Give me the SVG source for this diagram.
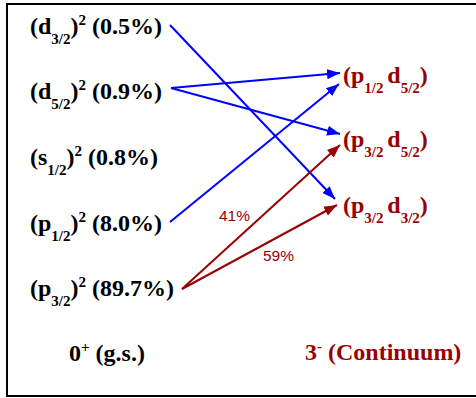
<svg xmlns="http://www.w3.org/2000/svg" width="476" height="398" viewBox="0 0 476 398">
<style>
text.t{font-family:'Liberation Serif','Times New Roman',Times,serif;font-weight:700;font-size:24px;fill:#000}
text.r{fill:#990000}
tspan.s{font-size:15px}
text.p{font-family:'Liberation Sans',Arial,sans-serif;font-size:15.5px;fill:#990000}
.b{stroke:#0000ff;stroke-width:2;fill:none;marker-end:url(#ab)}
.d{stroke:#990000;stroke-width:2;fill:none;marker-end:url(#ar)}
</style>
<defs>
<marker id="ab" markerUnits="userSpaceOnUse" markerWidth="14" markerHeight="12" refX="13" refY="5" orient="auto" viewBox="0 0 14 10"><path d="M0,0 L13,5 L0,10 z" fill="#0000ff"/></marker>
<marker id="ar" markerUnits="userSpaceOnUse" markerWidth="14" markerHeight="12" refX="13" refY="5" orient="auto" viewBox="0 0 14 10"><path d="M0,0 L13,5 L0,10 z" fill="#990000"/></marker>
</defs>
<rect x="7" y="4" width="480" height="392" fill="#fff" stroke="#000" stroke-width="2"/>
<g id="d32"><text class="t" font-family="Liberation Serif, serif" x="30" y="34">(d<tspan class="s" dy="10">3/2</tspan><tspan dy="-10">)</tspan><tspan class="s" dy="-9">2</tspan><tspan dy="9"> (0.5%)</tspan></text></g>
<g id="d52"><text class="t" font-family="Liberation Serif, serif" x="30" y="99">(d<tspan class="s" dy="10">5/2</tspan><tspan dy="-10">)</tspan><tspan class="s" dy="-9">2</tspan><tspan dy="9"> (0.9%)</tspan></text></g>
<g id="s12"><text class="t" font-family="Liberation Serif, serif" x="30" y="165">(s<tspan class="s" dy="10">1/2</tspan><tspan dy="-10">)</tspan><tspan class="s" dy="-9">2</tspan><tspan dy="9"> (0.8%)</tspan></text></g>
<g id="p12"><text class="t" font-family="Liberation Serif, serif" x="30" y="231">(p<tspan class="s" dy="10">1/2</tspan><tspan dy="-10">)</tspan><tspan class="s" dy="-9">2</tspan><tspan dy="9"> (8.0%)</tspan></text></g>
<g id="p32"><text class="t" font-family="Liberation Serif, serif" x="30" y="296">(p<tspan class="s" dy="10">3/2</tspan><tspan dy="-10">)</tspan><tspan class="s" dy="-9">2</tspan><tspan dy="9"> (89.7%)</tspan></text></g>
<g id="gs"><text class="t" font-family="Liberation Serif, serif" x="69" y="361">0<tspan class="s" dy="-9">+</tspan><tspan dy="9"> (g.s.)</tspan></text></g>
<g id="p12d52"><text class="t r" font-family="Liberation Serif, serif" x="343" y="83">(p<tspan class="s" dy="10">1/2 </tspan><tspan dy="-10">d</tspan><tspan class="s" dy="10">5/2</tspan><tspan dy="-10">)</tspan></text></g>
<g id="p32d52"><text class="t r" font-family="Liberation Serif, serif" x="343" y="147">(p<tspan class="s" dy="10">3/2 </tspan><tspan dy="-10">d</tspan><tspan class="s" dy="10">5/2</tspan><tspan dy="-10">)</tspan></text></g>
<g id="p32d32"><text class="t r" font-family="Liberation Serif, serif" x="343" y="213">(p<tspan class="s" dy="10">3/2 </tspan><tspan dy="-10">d</tspan><tspan class="s" dy="10">3/2</tspan><tspan dy="-10">)</tspan></text></g>
<g id="cont"><text class="t r" font-family="Liberation Serif, serif" x="305" y="360">3<tspan class="s" dy="-9">-</tspan><tspan dy="9"> (Continuum)</tspan></text></g>
<g id="connectors">
<line class="b" x1="170" y1="25" x2="335" y2="199"/>
<line class="b" x1="171" y1="88" x2="340" y2="73"/>
<line class="b" x1="171" y1="88" x2="340" y2="134"/>
<line class="b" x1="170" y1="222" x2="339" y2="84"/>
<line class="d" x1="182" y1="289" x2="340" y2="145"/>
<line class="d" x1="182" y1="289" x2="337" y2="205"/>
<text class="p" x="219" y="221">41%</text>
<text class="p" x="263" y="261">59%</text>
</g>
</svg>
